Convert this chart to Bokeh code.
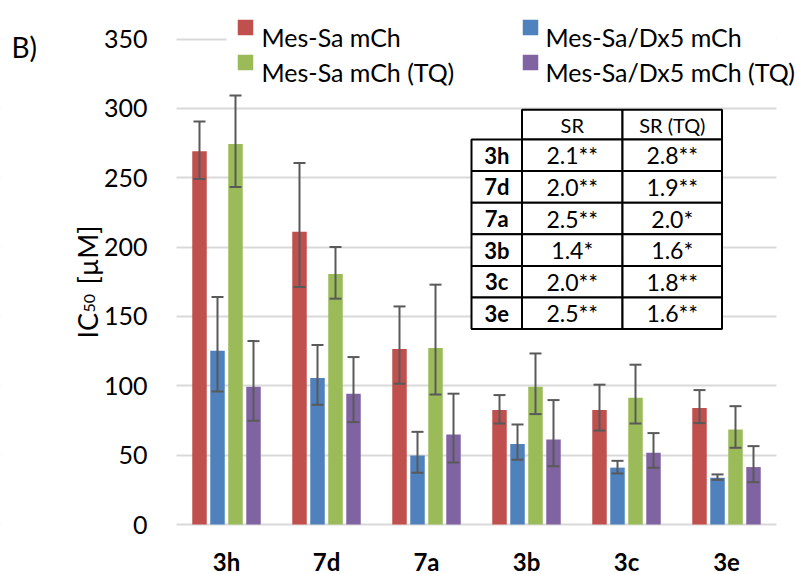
import math
from bokeh.plotting import figure
from bokeh.models import (ColumnDataSource, Range1d, FixedTicker, Whisker, TeeHead, Label)
from bokeh.transform import dodge
from bokeh.core.properties import value
from bokeh.embed import file_html
from bokeh.resources import INLINE

# ---------------- data ----------------
categories = ["3h", "7d", "7a", "3b", "3c", "3e"]
series_names = ["Mes-Sa mCh", "Mes-Sa/Dx5 mCh", "Mes-Sa mCh (TQ)", "Mes-Sa/Dx5 mCh (TQ)"]

mes_sa = [269.0, 211.0, 126.5, 82.5, 82.5, 84.0]
mes_sa_hi = [290.6, 260.6, 157.2, 93.3, 100.8, 96.9]
mes_sa_lo = [249.1, 171.2, 101.5, 72.8, 67.7, 73.1]

dx5 = [125.3, 105.6, 49.8, 58.0, 41.0, 33.7]
dx5_hi = [164.0, 129.4, 66.8, 72.1, 45.9, 36.1]
dx5_lo = [95.9, 86.3, 37.3, 46.7, 36.8, 32.2]

mes_sa_tq = [274.3, 180.6, 127.2, 99.3, 91.4, 68.5]
mes_sa_tq_hi = [309.2, 200.0, 172.9, 123.3, 115.2, 85.3]
mes_sa_tq_lo = [243.3, 162.8, 93.7, 79.6, 72.8, 55.3]

dx5_tq = [99.3, 94.3, 64.9, 61.3, 51.7, 41.4]
dx5_tq_hi = [132.2, 120.7, 94.3, 89.7, 65.9, 56.5]
dx5_tq_lo = [74.8, 73.8, 44.7, 42.0, 40.9, 30.5]

y_ticks = [0, 50, 100, 150, 200, 250, 300, 350]

table_header = ["SR", "SR (TQ)"]
table_rows = ["3h", "7d", "7a", "3b", "3c", "3e"]
sr = ["2.1**", "2.0**", "2.5**", "1.4*", "2.0**", "2.5**"]
sr_tq = ["2.8**", "1.9**", "2.0*", "1.6*", "1.8**", "1.6**"]

colors = ["#C0504D", "#4F81BD", "#9BBB59", "#8064A2"]
offsets = [-0.27, -0.09, 0.09, 0.27]
FONT = "Lato"
W, H = 797, 574

# ---------------- layout helpers (canvas pixel -> data) ----------------
PX_X0 = 176.0      # left edge of plot area
PX_X1 = 776.0      # right edge of plot area
PX_CAT = 100.0     # pixels per category
PX_Y0 = 524.0      # y pixel of value 0
PPU = (524.0 - 38.5) / 350.0   # pixels per unit


def dx(px):
    return (px - PX_X0) / PX_CAT


def dy(py):
    return (PX_Y0 - py) / PPU


xc = [i + 0.5 for i in range(len(categories))]
src = ColumnDataSource(dict(
    xc=xc, cat=categories,
    s0=mes_sa, s0_hi=mes_sa_hi, s0_lo=mes_sa_lo,
    s1=dx5, s1_hi=dx5_hi, s1_lo=dx5_lo,
    s2=mes_sa_tq, s2_hi=mes_sa_tq_hi, s2_lo=mes_sa_tq_lo,
    s3=dx5_tq, s3_hi=dx5_tq_hi, s3_lo=dx5_tq_lo,
))

p = figure(width=W, height=H, x_range=Range1d(dx(0), dx(W)),
           y_range=Range1d(dy(H), dy(0)), output_backend="svg", toolbar_location=None,
           min_border=0)
p.outline_line_color = None
p.background_fill_color = "white"
p.border_fill_color = "white"

# x axis (category names) fixed at value 0
p.xaxis.fixed_location = 0
p.xaxis.ticker = FixedTicker(ticks=xc)
p.xaxis.major_label_overrides = {x: c for x, c in zip(xc, categories)}
p.xaxis.axis_line_color = None
p.xaxis.major_tick_line_color = None
p.xaxis.minor_tick_line_color = None
p.xaxis.major_tick_out = 0
p.xaxis.major_label_standoff = 22
p.xaxis.major_label_text_font = FONT
p.xaxis.major_label_text_font_style = "bold"
p.xaxis.major_label_text_font_size = "24px"
p.xaxis.major_label_text_color = "black"
p.xgrid.grid_line_color = None

# y axis fixed at the plot-area's left edge
p.yaxis.fixed_location = dx(PX_X0)
p.yaxis.ticker = FixedTicker(ticks=y_ticks)
p.yaxis.axis_line_color = None
p.yaxis.major_tick_line_color = None
p.yaxis.minor_tick_line_color = None
p.yaxis.major_tick_out = 0
p.yaxis.major_label_standoff = 29
p.yaxis.major_label_text_font = FONT
p.yaxis.major_label_text_font_size = "25px"
p.yaxis.major_label_text_color = "black"
p.ygrid.grid_line_color = "#d9d9d9"
p.ygrid.grid_line_width = 2

# keep grid lines inside the plot area
p.quad(left=[dx(0), dx(PX_X1)], right=[dx(PX_X0), dx(W)], bottom=dy(H), top=dy(0),
       fill_color="white", line_color=None)

# bars + error bars
for i in range(4):
    key = "s%d" % i
    p.vbar(x=dodge("xc", offsets[i]), top=key, width=0.145,
           source=src, fill_color=colors[i], line_color=None)
    w = Whisker(source=src, base=dodge("xc", offsets[i]),
                lower=key + "_lo", upper=key + "_hi",
                line_color="#595959", line_width=2, level="overlay",
                upper_head=TeeHead(size=12, line_color="#595959", line_width=2),
                lower_head=TeeHead(size=12, line_color="#595959", line_width=2))
    p.add_layout(w)

# legend (white box, squares, labels)
p.quad(left=dx(226), right=dx(PX_X1), top=dy(10), bottom=dy(80),
       fill_color="white", line_color=None)
leg_sq_x = [245, 530]
leg_txt_x = [261, 545]
leg_sq_y = [27, 62]
leg_base_y = [36, 71.5]
for i, name in enumerate(series_names):
    c, r = i % 2, i // 2
    p.scatter(x=[dx(leg_sq_x[c])], y=[dy(leg_sq_y[r])], marker="square", size=15.5,
              fill_color=colors[i], line_color=None)
    p.add_layout(Label(x=dx(leg_txt_x[c]), y=dy(leg_base_y[r]), text=name,
                       text_font=FONT, text_font_size="25px", text_color="black",
                       text_align="left", text_baseline="alphabetic"))

# table
col_edges = [471, 521.5, 622, 721.5]
head_top, head_bot = 109.3, 139.0
row_h = 31.6
qx0, qx1, qy0, qy1 = [], [], [], []
for c in range(1, 3):
    qx0.append(dx(col_edges[c])); qx1.append(dx(col_edges[c + 1]))
    qy0.append(dy(head_bot)); qy1.append(dy(head_top))
for r in range(len(table_rows)):
    for c in range(3):
        qx0.append(dx(col_edges[c])); qx1.append(dx(col_edges[c + 1]))
        qy0.append(dy(head_bot + (r + 1) * row_h)); qy1.append(dy(head_bot + r * row_h))
p.quad(left=qx0, right=qx1, bottom=qy0, top=qy1, fill_color="white",
       line_color="black", line_width=2)

ccx = [dx((col_edges[c] + col_edges[c + 1]) / 2) for c in range(3)]
p.text(x=ccx[1:], y=[dy((head_top + head_bot) / 2)] * 2, text=table_header,
       text_font=value(FONT), text_font_size="20px", text_align="center",
       text_baseline="middle", text_color="black")
row_y = [dy(head_bot + (r + 0.5) * row_h) for r in range(len(table_rows))]
p.text(x=[ccx[0]] * len(table_rows), y=row_y, text=table_rows,
       text_font=value(FONT), text_font_style="bold", text_font_size="22px",
       text_align="center", text_baseline="middle", text_color="black")
p.text(x=[ccx[1]] * len(sr), y=row_y, text=sr,
       text_font=value(FONT), text_font_size="23px", text_align="center",
       text_baseline="middle", text_color="black")
p.text(x=[ccx[2]] * len(sr_tq), y=row_y, text=sr_tq,
       text_font=value(FONT), text_font_size="23px", text_align="center",
       text_baseline="middle", text_color="black")

# y axis title  IC50 [µM]  (rotated, reads bottom to top)
p.add_layout(Label(x=dx(86.7), y=dy(338), text="IC", angle=math.pi / 2,
                   text_font=FONT, text_font_size="27px", text_color="black",
                   text_align="left", text_baseline="alphabetic"))
p.add_layout(Label(x=dx(88.5), y=dy(312), text="50", angle=math.pi / 2,
                   text_font=FONT, text_font_size="16px", text_color="black",
                   text_align="left", text_baseline="alphabetic"))
p.add_layout(Label(x=dx(86.7), y=dy(284), text="[µM]", angle=math.pi / 2,
                   text_font=FONT, text_font_size="27px", text_color="black",
                   text_align="left", text_baseline="alphabetic"))

# panel letter
p.add_layout(Label(x=dx(11), y=dy(46), text="B)", text_font=FONT,
                   text_font_size="28px", text_color="black",
                   text_align="left", text_baseline="alphabetic"))

open("out.html", "w").write(file_html(p, INLINE))
